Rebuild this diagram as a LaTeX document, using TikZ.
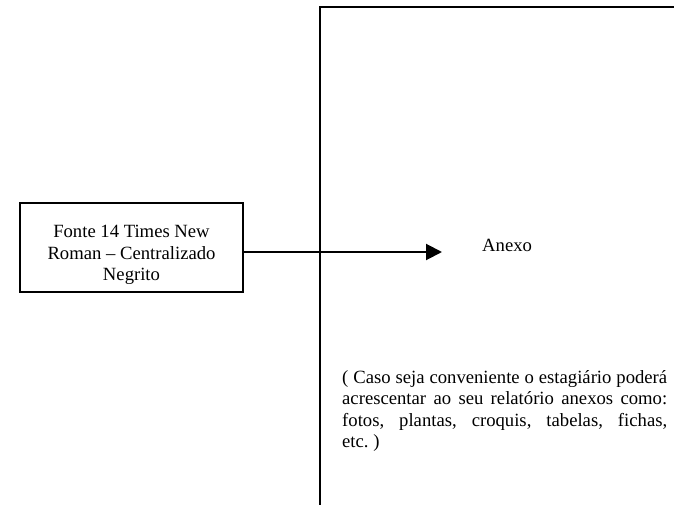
\documentclass[tikz,border=0pt]{standalone}
\usepackage{fontspec}
\setmainfont{Liberation Serif}
\usetikzlibrary{arrows.meta}

\begin{document}
\begin{tikzpicture}[x=1pt,y=-1pt,font=\fontsize{18.67}{21.6}\selectfont\frenchspacing]
        \tikzstyle{caixa}=[draw,line width=2pt,minimum width=223pt,minimum height=89pt,inner sep=0pt]
        \tikzstyle{texto}=[inner sep=0pt]
        \tikzstyle{seta}=[line width=2pt,-{Triangle[length=16pt,width=16pt]}]

        \useasboundingbox (0,0) rectangle (674,505);

        \draw[line width=2.6pt] (320,505) -- (320,7) -- (674,7); % margem da folha

        \node[caixa] (fonte) at (131.5,247.5) { };
        \begin{scope}
          \clip (21,204) rectangle (242,283);
          \node[texto,align=center] (fontetxt) at (131.5,255) {Fonte 14 Times New\\Roman – Centralizado\\Negrito};
        \end{scope}
        \coordinate (ponta) at (442,252);
        \node[texto,anchor=base west] (anexo) at (482,251) {Anexo};
        \node[texto,anchor=north west,text width=325pt,align=justify] (caso) at (342,370)
              {( Caso seja conveniente o estagiário poderá\linebreak
               acrescentar ao seu relatório anexos como:\linebreak
               fotos, plantas, croquis, tabelas, fichas,\linebreak
               etc. )};

        \draw[seta] (fonte.east |- ponta) -- (ponta);
\end{tikzpicture}
\end{document}
